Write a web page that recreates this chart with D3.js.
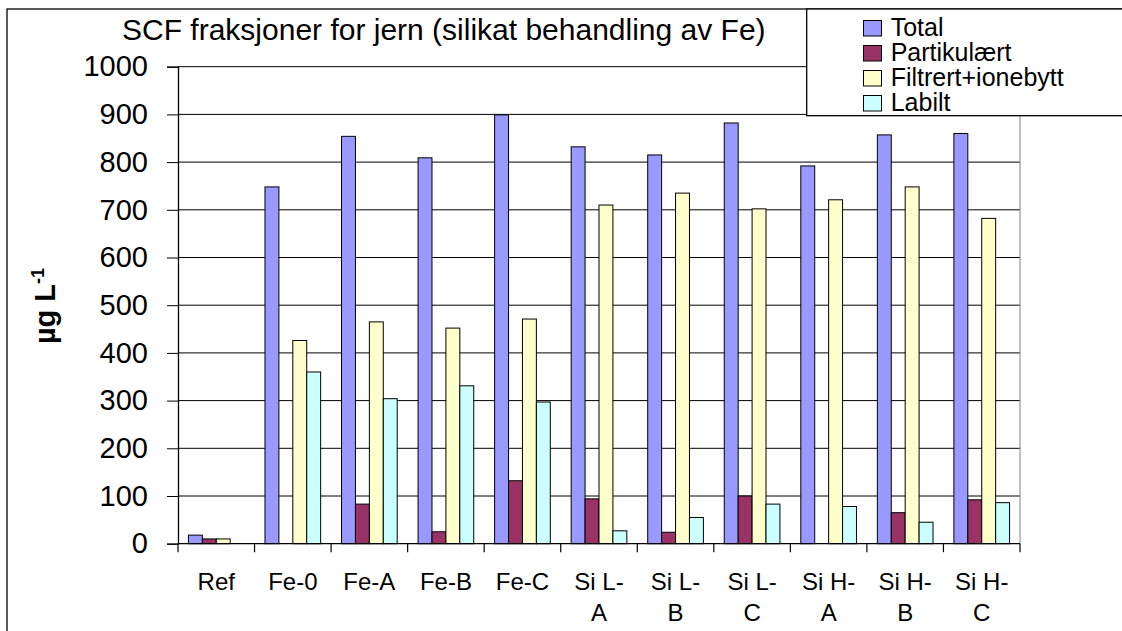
<!DOCTYPE html>
<html>
<head>
<meta charset="utf-8">
<script src="https://cdn.jsdelivr.net/npm/d3@7"></script>
<style>
  html, body { margin: 0; padding: 0; background: #fff; }
  svg { display: block; font-family: "Liberation Sans", Arial, sans-serif; }
</style>
</head>
<body>
<svg id="chart" width="1122" height="631"></svg>
<script>
const categories = ["Ref", "Fe-0", "Fe-A", "Fe-B", "Fe-C", "Si L-A", "Si L-B", "Si L-C", "Si H-A", "Si H-B", "Si H-C"];
const categoryLines = [["Ref"], ["Fe-0"], ["Fe-A"], ["Fe-B"], ["Fe-C"], ["Si L-", "A"], ["Si L-", "B"], ["Si L-", "C"], ["Si H-", "A"], ["Si H-", "B"], ["Si H-", "C"]];
const seriesNames = ["Total", "Partikulært", "Filtrert+ionebytt", "Labilt"];
const totalValues = [18, 748, 854, 809, 899, 832, 815, 882, 792, 857, 860];
const partikulaertValues = [10, 0, 83, 25, 132, 94, 24, 100, 0, 65, 92];
const filtrertValues = [10, 426, 465, 452, 471, 710, 735, 702, 721, 748, 682];
const labiltValues = [0, 360, 304, 331, 297, 27, 55, 83, 78, 45, 86];
const yTicks = [0, 100, 200, 300, 400, 500, 600, 700, 800, 900, 1000];
const colors = ["#9999FF", "#993366", "#FFFFCC", "#CCFFFF"];

const series = [totalValues, partikulaertValues, filtrertValues, labiltValues];

const svg = d3.select("#chart");
const plot = { left: 178, right: 1020, top: 66.7, bottom: 543.7 };

// outer border
svg.append("rect").attr("x", 7).attr("y", 9).attr("width", 1140).attr("height", 650)
  .attr("fill", "#fff").attr("stroke", "#000").attr("stroke-width", 1.3);

const y = d3.scaleLinear().domain([0, 1000]).range([plot.bottom, plot.top]);
const x0 = d3.scaleBand().domain(categories).range([plot.left, plot.right])
  .paddingInner(0.2727).paddingOuter(0.13635);
const x1 = d3.scaleBand().domain(seriesNames).range([0, x0.bandwidth()]);

// gridlines
svg.append("g").selectAll("line").data(yTicks.filter(d => d > 0)).join("line")
  .attr("x1", plot.left).attr("x2", plot.right)
  .attr("y1", d => y(d)).attr("y2", d => y(d))
  .attr("stroke", "#000").attr("stroke-width", 1);

// right plot edge
svg.append("line").attr("x1", plot.right).attr("x2", plot.right)
  .attr("y1", plot.top).attr("y2", plot.bottom)
  .attr("stroke", "#808080").attr("stroke-width", 1);

// bars
const groups = svg.append("g").selectAll("g").data(categories).join("g")
  .attr("transform", d => `translate(${x0(d)},0)`);
groups.selectAll("rect")
  .data((c, i) => seriesNames.map((s, j) => ({ s, j, v: series[j][i] })).filter(d => d.v > 0))
  .join("rect")
  .attr("x", d => x1(d.s))
  .attr("width", x1.bandwidth())
  .attr("y", d => y(d.v))
  .attr("height", d => y(0) - y(d.v))
  .attr("fill", d => colors[d.j])
  .attr("stroke", "#000").attr("stroke-width", 1);

// y axis
const yAxis = d3.axisLeft(y).tickValues(yTicks).tickFormat(d3.format("d")).tickSize(11).tickPadding(19);
const gy = svg.append("g").attr("transform", `translate(${plot.left},0)`).call(yAxis);
gy.select(".domain").attr("stroke", "#000").attr("stroke-width", 1.3);
gy.selectAll(".tick line").attr("stroke", "#000");
gy.selectAll(".tick text").attr("font-size", 29).attr("font-family", "Liberation Sans, Arial, sans-serif")
  .attr("fill", "#000");

// x axis baseline and ticks at category boundaries
const step = x0.step();
const boundaries = d3.range(categories.length + 1).map(i => plot.left + i * step);
svg.append("line").attr("x1", plot.left).attr("x2", plot.right)
  .attr("y1", plot.bottom).attr("y2", plot.bottom)
  .attr("stroke", "#000").attr("stroke-width", 1.3);
svg.append("g").selectAll("line").data(boundaries).join("line")
  .attr("x1", d => d).attr("x2", d => d)
  .attr("y1", plot.bottom).attr("y2", plot.bottom + 8.5)
  .attr("stroke", "#000").attr("stroke-width", 1.2);

// x labels
const xl = svg.append("g").selectAll("text").data(categories).join("text")
  .attr("x", d => x0(d) + x0.bandwidth() / 2)
  .attr("y", 590)
  .attr("text-anchor", "middle")
  .attr("font-size", 24)
  .attr("fill", "#000");
xl.each(function(d, i) {
  const t = d3.select(this);
  categoryLines[i].forEach((ln, k) => {
    t.append("tspan").attr("x", x0(d) + x0.bandwidth() / 2).attr("dy", k === 0 ? 0 : 30.5).text(ln);
  });
});

// y axis title
const yt = svg.append("text")
  .attr("transform", "translate(55,306) rotate(-90)")
  .attr("text-anchor", "middle")
  .attr("font-size", 29).attr("font-weight", "bold").attr("fill", "#000");
yt.append("tspan").text("µg L");
yt.append("tspan").attr("font-size", 18).attr("dy", -11).text("-1");

// title
svg.append("text").attr("x", 122).attr("y", 40)
  .attr("font-size", 30).attr("fill", "#000")
  .text("SCF fraksjoner for jern (silikat behandling av Fe)");

// legend
svg.append("rect").attr("x", 806.7).attr("y", 9).attr("width", 330).attr("height", 106.7)
  .attr("fill", "#fff").attr("stroke", "#000").attr("stroke-width", 1.3);
const lg = svg.append("g").selectAll("g").data(seriesNames).join("g")
  .attr("transform", (d, i) => `translate(0,${36 + i * 25})`);
lg.append("rect").attr("x", 863.5).attr("y", -15.5).attr("width", 18).attr("height", 15.5)
  .attr("fill", (d, i) => colors[i]).attr("stroke", "#000").attr("stroke-width", 1);
lg.append("text").attr("x", 890.7).attr("y", 0).attr("font-size", 25).attr("fill", "#000").text(d => d);
</script>
</body>
</html>
